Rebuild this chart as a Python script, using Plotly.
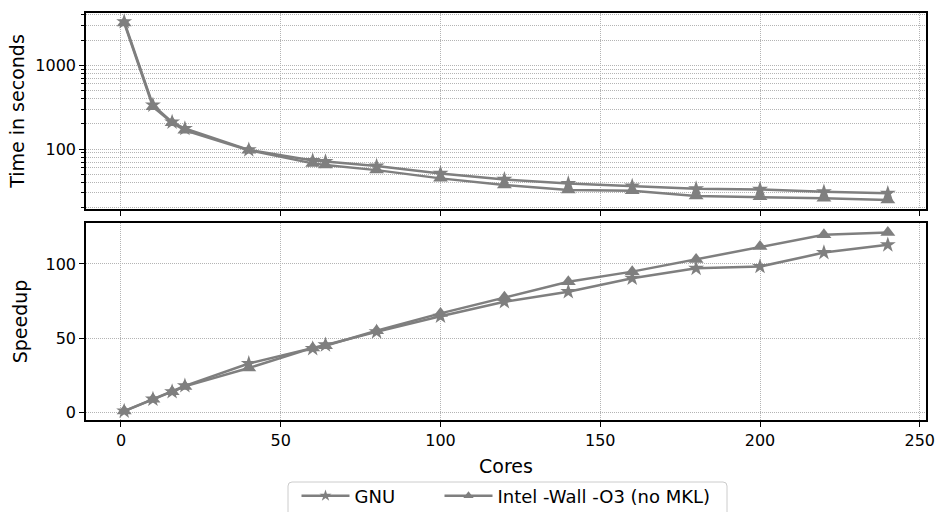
import plotly.graph_objects as go

cores = [1, 10, 16, 20, 40, 60, 64, 80, 100, 120, 140, 160, 180, 200, 220, 240]

time_gnu = [3300, 335, 210, 176, 98, 73, 71, 62.8, 51.3, 43.5, 38.9, 36.3, 33.7, 33.1, 31.0, 29.7]
time_intel = [3200, 320, 206, 168, 97, 67.6, 64.5, 56.2, 44.8, 37.3, 32.5, 31.9, 27.6, 27.0, 25.9, 24.7]

speedup_gnu = [1, 9, 14, 18, 33, 43, 45.5, 54.3, 64.8, 74.5, 81.3, 90.3, 97, 98.2, 107.6, 112.8]
speedup_intel = [1, 9, 14, 17.6, 30, 43.5, 45, 55, 66.7, 77.5, 88, 94.8, 103, 111.7, 119.6, 121.2]

series_names = ["GNU", "Intel -Wall -O3 (no MKL)"]

y_ticks_top = [100, 1000]
y_minor_top = [20, 30, 40, 50, 60, 70, 80, 90, 200, 300, 400, 500, 600, 700, 800, 900, 2000, 3000, 4000]
y_ticks_bottom = [0, 50, 100]
x_ticks = [0, 50, 100, 150, 200, 250]

GRAY = "#7f7f7f"
GRID = "#b4b4b4"
FONT = "DejaVu Sans"
DASH = "1px,1px"

fig = go.Figure()

symbols = ["star", "triangle-up"]
sizes = [12, 13]
legends = ["legend", "legend2"]
for i, (t, s) in enumerate([(time_gnu, speedup_gnu), (time_intel, speedup_intel)]):
    fig.add_trace(go.Scatter(
        x=cores, y=t, mode="lines+markers", name=series_names[i],
        line=dict(color=GRAY, width=2.5),
        marker=dict(symbol=symbols[i], size=sizes[i], color=GRAY),
        xaxis="x", yaxis="y", showlegend=False,
    ))
    fig.add_trace(go.Scatter(
        x=cores, y=s, mode="lines+markers", name=series_names[i],
        line=dict(color=GRAY, width=2.5),
        marker=dict(symbol=symbols[i], size=sizes[i], color=GRAY),
        xaxis="x2", yaxis="y2", showlegend=False,
    ))
    # legend entry (small marker as in reference legend)
    fig.add_trace(go.Scatter(
        x=[None], y=[None], mode="lines+markers", name=series_names[i],
        line=dict(color=GRAY, width=2.5),
        marker=dict(symbol=symbols[i], size=9, color=GRAY),
        xaxis="x2", yaxis="y2", showlegend=True, legend=legends[i],
    ))

axis_common = dict(
    showline=True, linecolor="black", linewidth=1.5, mirror=True,
    ticks="outside", ticklen=5, tickwidth=1.2, tickcolor="black",
    showgrid=True, gridcolor=GRID, griddash=DASH, gridwidth=1,
    zeroline=False, tickfont=dict(size=16), ticklabeloverflow="allow",
)

xr = [-10.95, 251.95]

# legend frame geometry (paper coordinates)
x0, x1 = (288 - 86) / 840, (727 - 86) / 840
y0, y1 = (420 - 482) / 407, -0.30
rx, ry = 4 / 840, 4 / 407
frame_path = (
    f"M {x0+rx},{y0} L {x1-rx},{y0} Q {x1},{y0} {x1},{y0-ry} "
    f"L {x1},{y1+ry} Q {x1},{y1} {x1-rx},{y1} L {x0+rx},{y1} "
    f"Q {x0},{y1} {x0},{y1+ry} L {x0},{y0-ry} Q {x0},{y0} {x0+rx},{y0} Z"
)

leg_common = dict(orientation="h", yanchor="middle", y=(420 - 496) / 407,
                  xanchor="left", bgcolor="rgba(0,0,0,0)", borderwidth=0,
                  font=dict(size=18), itemwidth=48)

fig.update_layout(
    width=938, height=512,
    margin=dict(l=86, r=12, t=13, b=92, autoexpand=False),
    paper_bgcolor="white", plot_bgcolor="white",
    font=dict(family=FONT, size=16, color="black"),
    xaxis=dict(domain=[0, 1], anchor="y", range=xr, tickvals=x_ticks,
               showticklabels=False, **axis_common),
    yaxis=dict(domain=[0.5184, 1], anchor="x", type="log", range=[1.286, 3.623],
               tickvals=y_ticks_top, ticktext=[str(v) for v in y_ticks_top],
               title=dict(text="Time in seconds", standoff=6),
               minor=dict(tickvals=y_minor_top, ticks="outside", ticklen=3,
                          tickcolor="black", showgrid=True, gridcolor=GRID,
                          griddash=DASH, gridwidth=1),
               **axis_common),
    xaxis2=dict(domain=[0, 1], anchor="y2", range=xr, tickvals=x_ticks,
                title=dict(text="Cores", standoff=11), **axis_common),
    yaxis2=dict(domain=[0, 0.484], anchor="x2", range=[-5, 127.5],
                tickvals=y_ticks_bottom, title=dict(text="Speedup", standoff=13),
                **axis_common),
    legend=dict(x=(296.5 - 86) / 840, **leg_common),
    legend2=dict(x=(439.5 - 86) / 840, **leg_common),
    shapes=[dict(type="path", path=frame_path, xref="paper", yref="paper",
                 line=dict(color="#cccccc", width=1), fillcolor="white", layer="below")],
)

fig.write_html("out.html", config={"displayModeBar": False},
               post_script="document.body.style.margin='0';")
